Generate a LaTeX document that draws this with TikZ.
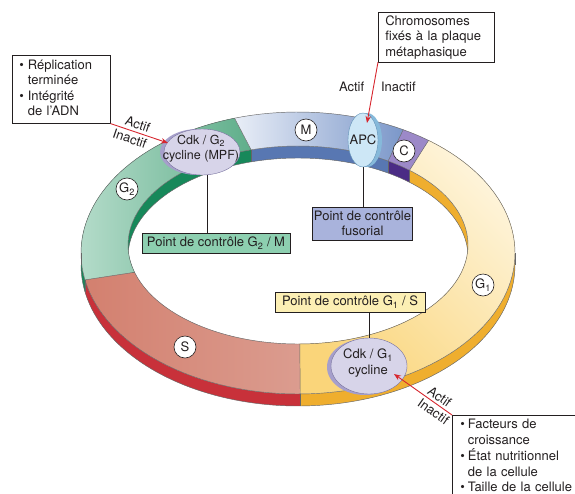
\documentclass[tikz,border=0pt]{standalone}
\usepackage{fontspec}
\setmainfont{TeX Gyre Heros}
\usetikzlibrary{shapes.geometric,arrows.meta}
\definecolor{txt}{HTML}{231F20}
\definecolor{g2topA}{HTML}{B3DBC9}
\definecolor{g2topB}{HTML}{5FAE8A}
\definecolor{g2side}{HTML}{17885A}
\definecolor{mtopA}{HTML}{E9EEF7}
\definecolor{mtopB}{HTML}{7B97C9}
\definecolor{mside}{HTML}{5877B2}
\definecolor{ctop}{HTML}{9C89C8}
\definecolor{cside}{HTML}{4B2C85}
\definecolor{g1topA}{HTML}{FEF4DA}
\definecolor{g1topB}{HTML}{FAD57A}
\definecolor{g1side}{HTML}{EFAE2E}
\definecolor{stopA}{HTML}{D3806F}
\definecolor{stopB}{HTML}{DB9C8F}
\definecolor{sside}{HTML}{C8313A}
\definecolor{g2mfill}{HTML}{8DCFB0}
\definecolor{fusfill}{HTML}{A9B3DC}
\definecolor{g1sfill}{HTML}{FCEFB4}
\definecolor{enzfill}{HTML}{D7D4E9}
\definecolor{enzrim}{HTML}{A69FCB}
\definecolor{enzedge}{HTML}{77719E}
\definecolor{apcfill}{HTML}{CDE7F6}
\definecolor{apcrim}{HTML}{86B9DA}
\definecolor{apcedge}{HTML}{5E8FB5}
\definecolor{arred}{HTML}{D7262E}
\def\rgox{298}\def\rgoy{253}\def\rgoa{217}\def\rgob{141}
\def\rgix{298}\def\rgiy{245}\def\rgia{170}\def\rgib{99}
\def\rgth{12}
\newcommand\rgtop[5]{\path[#1] plot[domain=#2:#3,samples=80] ({\rgox+\rgoa*cos(\x)},{\rgoy-\rgob*sin(\x)}) -- plot[domain=#5:#4,samples=80] ({\rgix+\rgia*cos(\x)},{\rgiy-\rgib*sin(\x)}) -- cycle;}
\newcommand\rgoband[3]{\fill[#1] plot[domain=#2:#3,samples=80] ({\rgox+\rgoa*cos(\x)},{\rgoy-\rgob*sin(\x)}) -- plot[domain=#3:#2,samples=80] ({\rgox+\rgoa*cos(\x)},{\rgoy+\rgth-\rgob*sin(\x)}) -- cycle;}
\newcommand\rgiband[3]{\fill[#1] plot[domain=#2:#3,samples=80] ({\rgix+\rgia*cos(\x)},{\rgiy-\rgib*sin(\x)}) -- plot[domain=#3:#2,samples=80] ({\rgix+\rgia*cos(\x)},{\rgiy+\rgth-\rgib*sin(\x)}) -- cycle;}
\newcommand\rgsep[2]{\draw[edge] ({\rgox+\rgoa*cos(#1)},{\rgoy-\rgob*sin(#1)}) -- ({\rgix+\rgia*cos(#2)},{\rgiy-\rgib*sin(#2)});}
\newcommand\rgoside[1]{\draw[edge] ({\rgox+\rgoa*cos(#1)},{\rgoy-\rgob*sin(#1)}) -- ++(0,\rgth);}
\newcommand\rgiside[1]{\draw[edge] ({\rgix+\rgia*cos(#1)},{\rgiy-\rgib*sin(#1)}) -- ++(0,\rgth);}
\begin{document}
\begin{tikzpicture}[x=1pt,y=-1pt,
  every node/.style={font=\fontsize{13}{15.5}\selectfont, text=txt},
  edge/.style={draw=black!60, line width=0.45pt},
  lbl/.style={circle, draw=txt, fill=white, line width=0.6pt, minimum size=22pt, inner sep=0pt},
  box/.style={draw=txt, fill=white, line width=0.6pt, align=left},
  cbox/.style={draw=txt, line width=0.6pt, inner xsep=1.5pt, inner ysep=1pt, align=center},
  enzy/.style={ellipse, inner sep=0pt},
  redarr/.style={draw=arred, line width=0.9pt, -{Stealth[length=7pt,width=5.5pt]}},
  tag/.style={inner sep=2.5pt}]
\useasboundingbox (0,0) rectangle (575,493);
% outer side walls
\rgoband{g2side}{107}{191}
\rgoband{sside}{191}{270.6}
\rgoband{g1side}{270.6}{413}
% inner walls
\rgiband{g1side}{-90}{49}
\rgiband{cside}{49}{58}
\rgiband{mside}{58}{106}
\rgiband{g2side}{106}{196}
% top surface
\rgtop{left color=g2topA, right color=g2topB}{107}{191}{106}{196}
\rgtop{left color=stopA, right color=stopB}{191}{270.6}{196}{270.6}
\rgtop{top color=g1topA, bottom color=g1topB, shading angle=-45}{270.6}{413}{270.6}{409}
\rgtop{fill=ctop}{53}{61}{49}{58}
\rgtop{left color=mtopA, right color=mtopB}{61}{107}{58}{106}
% outlines
\draw[edge] plot[domain=0:360,samples=160] ({\rgox+\rgoa*cos(\x)},{\rgoy-\rgob*sin(\x)}) -- cycle;
\draw[edge] plot[domain=180:360,samples=100] ({\rgox+\rgoa*cos(\x)},{\rgoy+\rgth-\rgob*sin(\x)});
\rgoside{180}\rgoside{360}\rgoside{191}\rgoside{270.6}
\draw[edge] plot[domain=0:360,samples=160] ({\rgix+\rgia*cos(\x)},{\rgiy-\rgib*sin(\x)}) -- cycle;
\begin{scope}
\clip plot[domain=0:360,samples=160] ({\rgix+\rgia*cos(\x)},{\rgiy-\rgib*sin(\x)}) -- cycle;
\draw[edge] plot[domain=0:180,samples=100] ({\rgix+\rgia*cos(\x)},{\rgiy+\rgth-\rgob*0+0-\rgib*sin(\x)});
\rgiside{49}\rgiside{58}\rgiside{106}
\end{scope}
\rgsep{53}{49}\rgsep{61}{58}\rgsep{107}{106}\rgsep{191}{196}\rgsep{270.6}{270.6}
% phase labels
\node[lbl] (lm) at (306,130) {M};
\node[lbl] (lc) at (404,151) {C};
\node[lbl] (lg2) at (127,189) {G\textsubscript{2}};
\node[lbl] (lg1) at (483,285) {G\textsubscript{1}};
\node[lbl] (ls) at (185,347) {S};
% enzymes
\node[enzy, fill=enzrim, minimum width=76pt, minimum height=46pt] (mpfrim) at (198,152) {};
\node[enzy, draw=enzedge, line width=0.4pt, fill=enzfill, minimum width=76pt, minimum height=46pt] (mpf) at (202,152) {};
\node[align=center, inner sep=0pt, font=\fontsize{12.5}{15}\selectfont] (mpftxt) at (201,149) {Cdk / G\textsubscript{2}\\cycline (MPF)};
\node[enzy, fill=apcrim, minimum width=30pt, minimum height=54pt] (apcrim) at (367,140) {};
\node[enzy, draw=apcedge, line width=0.4pt, fill=apcfill, minimum width=30pt, minimum height=54pt] (apc) at (363,140) {};
\node[inner sep=0pt] (apctxt) at (apc.center) {APC};
\node[enzy, fill=enzrim, minimum width=76pt, minimum height=56pt] (g1rim) at (365,367) {};
\node[enzy, draw=enzedge, line width=0.4pt, fill=enzfill, minimum width=76pt, minimum height=56pt] (g1e) at (369,366) {};
\node[align=center, inner sep=0pt] (g1txt) at (368,363) {Cdk / G\textsubscript{1}\\cycline};
% checkpoint boxes
\node[cbox, fill=g2mfill, minimum width=148pt, minimum height=20pt] (g2m) at (216,243) {Point de contrôle G\textsubscript{2} / M};
\node[cbox, fill=fusfill, minimum width=99pt, minimum height=33pt] (fus) at (362.5,223.5) {Point de contrôle\\fusorial};
\node[cbox, fill=g1sfill, minimum width=150pt, minimum height=20pt] (g1s) at (350,302) {Point de contrôle G\textsubscript{1} / S};
\coordinate (mpfbot) at (207,174.5);
\draw[draw=txt, line width=0.6pt] (mpfbot) -- (mpfbot |- g2m.north);
\draw[draw=txt, line width=0.6pt] (apc.south) -- (apc.south |- fus.north);
\draw[draw=txt, line width=0.6pt] (g1e.north) -- (g1e.north |- g1s.south);
% condition boxes
\node[box, anchor=north west, text width=84pt, inner xsep=7pt, inner ysep=3pt, minimum height=67pt] (tl) at (12,55)
  {\begin{tabular}{@{}l@{\hspace{4pt}}l@{}}•&Réplication\\&terminée\\•&Intégrité\\&de l'ADN\end{tabular}};
\node[box, anchor=north west, text width=102pt, inner xsep=7pt, inner ysep=3pt] (chr) at (378,12)
  {Chromosomes\\fixés à la plaque\\métaphasique};
\node[box, anchor=north west, text width=140pt, inner xsep=8pt, inner ysep=2.5pt] (br) at (452,415)
  {\begin{tabular}{@{}l@{\hspace{3pt}}l@{}}•&Facteurs de\\&croissance\\•&État nutritionnel\\&de la cellule\\•&Taille de la cellule\end{tabular}};
% red arrows
\coordinate (mpftip) at (168,143);
\coordinate (apctip) at (367,123);
\coordinate (g1tip) at (394,374);
\draw[redarr] (tl.south east) -- node[tag, pos=0.43, sloped, above] (a1) {Actif} node[tag, pos=0.38, sloped, below] (i1) {Inactif} (mpftip);
\draw[redarr] (chr.south west) -- node[inner sep=1pt, pos=0.4, left=8pt] (a2) {Actif} node[inner sep=1pt, pos=0.4, right=6pt] (i2) {Inactif} (apctip);
\draw[redarr] (br.north west) -- node[tag, pos=0.29, sloped, above] (a3) {Actif} node[tag, pos=0.24, sloped, below] (i3) {Inactif} (g1tip);
\end{tikzpicture}
\end{document}
